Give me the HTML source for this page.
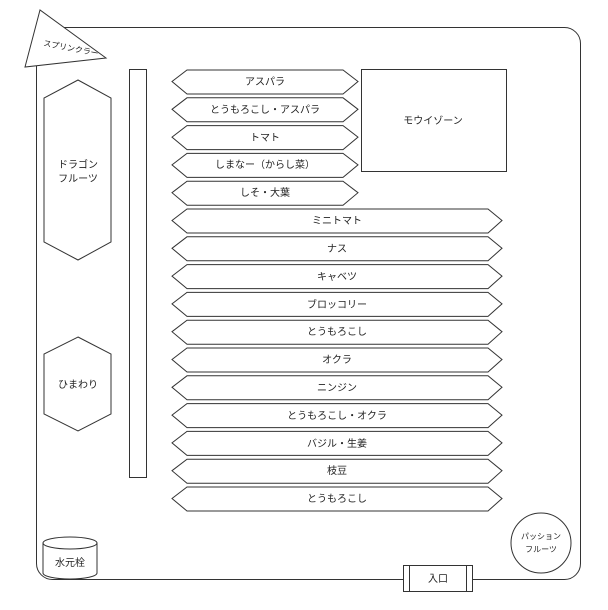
<!DOCTYPE html>
<html><head><meta charset="utf-8"><style>
body{margin:0;background:#fff}
svg{display:block}
text{font-family:"Liberation Sans","Noto Sans CJK JP",sans-serif;font-size:10px;fill:#222}
</style></head><body>
<svg width="608" height="610" viewBox="0 0 608 610" xmlns="http://www.w3.org/2000/svg">
<g fill="#fff" stroke="#333" stroke-width="1">
<rect x="36.5" y="27.5" width="544" height="552" rx="16"/>
<polygon points="40,10 25,67 106,58"/>
<rect x="129.5" y="69.5" width="17" height="408"/>
<polygon points="78,80 111,98 111,242 78,260 44,242 44,98"/>
<polygon points="78,337 111,354 111,414 78,431 44,414 44,354"/>
<rect x="361.5" y="69.5" width="145" height="102"/>
<g id="s">
<polygon points="172,81.5 187,70 343,70 358,81.5 343,94 187,94"/>
</g>
<use href="#s" y="27.8"/><use href="#s" y="55.6"/><use href="#s" y="83.4"/><use href="#s" y="111.2"/>
<g id="l"><polygon points="172,220.5 187,209 488,209 502,220.5 488,233 187,233"/></g>
<use href="#l" y="27.8"/><use href="#l" y="55.6"/><use href="#l" y="83.4"/><use href="#l" y="111.2"/><use href="#l" y="139"/><use href="#l" y="166.8"/><use href="#l" y="194.6"/><use href="#l" y="222.4"/><use href="#l" y="250.2"/><use href="#l" y="278"/>
<path d="M43,543 v30 a27,6 0 0 0 54,0 v-30"/>
<ellipse cx="70" cy="543" rx="27" ry="6"/>
<ellipse cx="541" cy="543" rx="30" ry="30"/>
<rect x="403.5" y="565.5" width="69" height="26"/>
<line x1="409.5" y1="566" x2="409.5" y2="591"/>
<line x1="466.5" y1="566" x2="466.5" y2="591"/>
</g>
<g text-anchor="middle">
<text x="71" y="51" transform="rotate(11 71 48)" style="font-size:8px">スプリンクラー</text>
<text x="78" y="168">ドラゴン</text><text x="78" y="182">フルーツ</text>
<text x="78" y="388">ひまわり</text>
<text x="433" y="124">モウイゾーン</text>
<text x="265" y="85">アスパラ</text>
<text x="265" y="113">とうもろこし・アスパラ</text>
<text x="265" y="141">トマト</text>
<text x="265" y="168">しまなー（からし菜）</text>
<text x="265" y="196">しそ・大葉</text>
<text x="337" y="224">ミニトマト</text>
<text x="337" y="252">ナス</text>
<text x="337" y="280">キャベツ</text>
<text x="337" y="308">ブロッコリー</text>
<text x="337" y="335">とうもろこし</text>
<text x="337" y="363">オクラ</text>
<text x="337" y="391">ニンジン</text>
<text x="337" y="419">とうもろこし・オクラ</text>
<text x="337" y="447">バジル・生姜</text>
<text x="337" y="474">枝豆</text>
<text x="337" y="502">とうもろこし</text>
<text x="70" y="566">水元栓</text>
<text x="541" y="539" style="font-size:8px">パッション</text>
<text x="541" y="552" style="font-size:8px">フルーツ</text>
<text x="438" y="582">入口</text>
</g>
</svg>
</body></html>
